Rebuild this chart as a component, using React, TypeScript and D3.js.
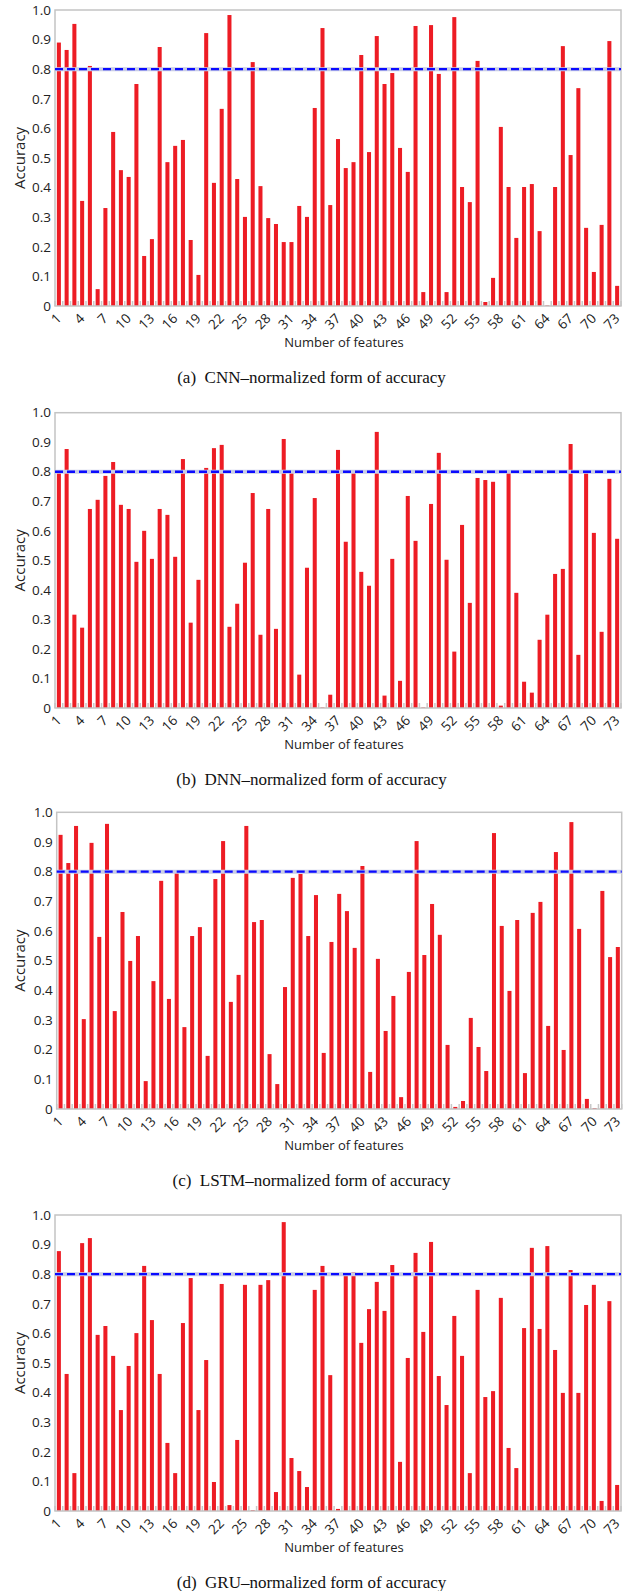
import * as d3 from 'd3';

// feature counts on the x axis
const features = d3.range(1, 74);
const xTickLabels = features.filter(f => (f - 1) % 3 === 0);
const yTicks = [0, 0.1, 0.2, 0.3, 0.4, 0.5, 0.6, 0.7, 0.8, 0.9, 1.0];
const threshold = 0.8;

const cnnValues = [
  0.89, 0.865, 0.953, 0.355, 0.811, 0.057, 0.331, 0.588, 0.459, 0.436,
  0.75, 0.169, 0.226, 0.875, 0.486, 0.541, 0.561, 0.223, 0.105, 0.922,
  0.416, 0.666, 0.983, 0.429, 0.301, 0.824, 0.405, 0.297, 0.277, 0.216,
  0.216, 0.338, 0.301, 0.669, 0.939, 0.341, 0.564, 0.466, 0.486, 0.848,
  0.52, 0.912, 0.75, 0.787, 0.534, 0.453, 0.946, 0.047, 0.949, 0.784,
  0.047, 0.976, 0.402, 0.351, 0.828, 0.0135, 0.095, 0.605, 0.402, 0.23,
  0.402, 0.412, 0.253, 0.002, 0.402, 0.878, 0.51, 0.736, 0.264, 0.115,
  0.274, 0.895, 0.068,
];

const dnnValues = [
  0.803, 0.877, 0.316, 0.272, 0.674, 0.705, 0.786, 0.833, 0.688, 0.674,
  0.495, 0.6, 0.505, 0.674, 0.654, 0.512, 0.843, 0.289, 0.434, 0.813,
  0.88, 0.891, 0.275, 0.353, 0.492, 0.728, 0.248, 0.674, 0.268, 0.911,
  0.803, 0.113, 0.475, 0.711, 0.002, 0.045, 0.874, 0.563, 0.796, 0.461,
  0.414, 0.935, 0.042, 0.505, 0.092, 0.718, 0.566, 0.002, 0.691, 0.864,
  0.502, 0.191, 0.62, 0.356, 0.779, 0.772, 0.766, 0.008, 0.796, 0.39,
  0.089, 0.052, 0.231, 0.316, 0.454, 0.471, 0.894, 0.18, 0.806, 0.593,
  0.258, 0.776, 0.573,
];

const lstmValues = [
  0.924, 0.829, 0.954, 0.303, 0.897, 0.58, 0.961, 0.33, 0.664, 0.499,
  0.583, 0.094, 0.431, 0.769, 0.371, 0.799, 0.276, 0.583, 0.613, 0.179,
  0.775, 0.903, 0.361, 0.452, 0.954, 0.63, 0.637, 0.185, 0.084, 0.411,
  0.779, 0.792, 0.583, 0.721, 0.189, 0.563, 0.725, 0.667, 0.543, 0.819,
  0.125, 0.506, 0.263, 0.381, 0.04, 0.462, 0.903, 0.519, 0.691, 0.587,
  0.216, 0.007, 0.027, 0.307, 0.209, 0.128, 0.93, 0.617, 0.398, 0.637,
  0.121, 0.661, 0.698, 0.28, 0.866, 0.199, 0.967, 0.607, 0.034, 0.003,
  0.735, 0.512, 0.546,
];

const gruValues = [
  0.878, 0.463, 0.128, 0.905, 0.922, 0.595, 0.625, 0.524, 0.341, 0.49,
  0.601, 0.828, 0.645, 0.463, 0.23, 0.128, 0.635, 0.787, 0.341, 0.51,
  0.098, 0.767, 0.02, 0.24, 0.764, 0.003, 0.764, 0.78, 0.064, 0.976,
  0.179, 0.135, 0.081, 0.747, 0.828, 0.459, 0.007, 0.794, 0.807, 0.568,
  0.682, 0.774, 0.676, 0.831, 0.166, 0.517, 0.872, 0.605, 0.909, 0.456,
  0.358, 0.659, 0.524, 0.128, 0.747, 0.385, 0.405, 0.72, 0.213, 0.145,
  0.618, 0.889, 0.615, 0.895, 0.544, 0.399, 0.814, 0.399, 0.696, 0.764,
  0.034, 0.709, 0.088,
];

const panels = [
  { values: cnnValues, caption: '(a)  CNN\u2013normalized form of accuracy', left: 55, right: 621, top: 10, bottom: 306 },
  { values: dnnValues, caption: '(b)  DNN\u2013normalized form of accuracy', left: 55, right: 621, top: 412.7, bottom: 708 },
  { values: lstmValues, caption: '(c)  LSTM\u2013normalized form of accuracy', left: 56.7, right: 621.7, top: 812.3, bottom: 1109 },
  { values: gruValues, caption: '(d)  GRU\u2013normalized form of accuracy', left: 55, right: 621, top: 1215, bottom: 1511 },
];

const sans = '"Open Sans", "DejaVu Sans", sans-serif';
const serif = '"Liberation Serif", "Times New Roman", serif';

function Panel({ p }: { p: typeof panels[number] }) {
  const x = d3.scaleBand<number>()
    .domain(features)
    .range([p.left, p.right])
    .paddingInner(0.48)
    .paddingOuter(0.24);
  const y = d3.scaleLinear().domain([0, 1]).range([p.bottom, p.top]);
  const bw = x.bandwidth();
  const gap = x.step() - bw;
  const cx = (f: number) => (x(f) as number) + bw / 2;

  return (
    <g>
      {/* little gray ticks between bars along the base */}
      {features.concat([74]).map(f => {
        const xx = f === 74 ? (x(73) as number) + bw + gap / 2 : (x(f) as number) - gap / 2;
        return <line key={'t' + f} x1={xx} x2={xx} y1={y(0) - 5} y2={y(0)} stroke="#c8c8c8" strokeWidth={1.5} />;
      })}
      {p.values.map((v, i) => (
        <rect key={i} x={x(features[i])} y={y(v)} width={bw} height={y(0) - y(v)} fill="#ed1c24" />
      ))}
      <rect x={p.left} y={p.top} width={p.right - p.left} height={p.bottom - p.top}
        fill="none" stroke="#c4c4c4" strokeWidth={1.5} />
      <line x1={p.left} x2={p.right} y1={y(threshold)} y2={y(threshold)} stroke="#c9cde6" strokeWidth={4} />
      <line x1={p.left} x2={p.right} y1={y(threshold)} y2={y(threshold)} stroke="#0a0aff"
        strokeWidth={2.3} strokeDasharray="8 4" />
      {yTicks.map(t => (
        <text key={'y' + t} x={p.left - 4} y={y(t)} dy="0.35em" textAnchor="end"
          fontFamily={sans} fontSize={13.5} fill="#222">
          {t === 0 ? '0' : d3.format('.1f')(t)}
        </text>
      ))}
      {xTickLabels.map(f => (
        <text key={'x' + f} transform={`translate(${cx(f)},${p.bottom + 10}) rotate(-45)`}
          textAnchor="end" dy="0.35em" fontFamily={sans} fontSize={13.5} fill="#222">
          {f}
        </text>
      ))}
      <text transform={`translate(20,${(p.top + p.bottom) / 2}) rotate(-90)`} textAnchor="middle"
        dy="0.35em" fontFamily={sans} fontSize={15} fill="#222">Accuracy</text>
      <text x={344} y={p.bottom + 36} dy="0.35em" textAnchor="middle" fontFamily={sans}
        fontSize={13} fill="#222">Number of features</text>
      <text x={311.5} y={p.bottom + 71} dy="0.35em" textAnchor="middle" fontFamily={serif}
        fontSize={17} fill="#111" style={{ whiteSpace: 'pre' }}>{p.caption}</text>
    </g>
  );
}

export default function App() {
  return (
    <div style={{ position: 'absolute', left: 0, top: 0 }}>
      <svg width={630} height={1591} style={{ display: 'block', background: '#fff' }}>
        {panels.map((p, i) => <Panel key={i} p={p} />)}
      </svg>
    </div>
  );
}
